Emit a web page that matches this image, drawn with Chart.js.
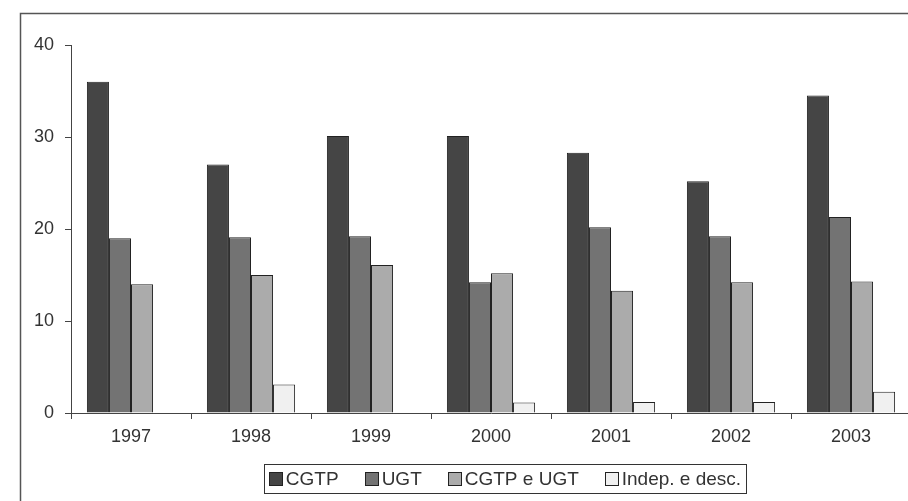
<!DOCTYPE html>
<html>
<head>
<meta charset="utf-8">
<script src="https://cdn.jsdelivr.net/npm/chart.js@4/dist/chart.umd.min.js"></script>
<style>
  html, body { margin: 0; padding: 0; background: #fff; overflow: hidden; }
  #wrap { position: absolute; left: 0; top: 0; width: 915px; height: 501px; }
</style>
</head>
<body>
<div id="wrap"><canvas id="c" width="915" height="501"></canvas></div>
<script>
const categories = ['1997', '1998', '1999', '2000', '2001', '2002', '2003'];
const seriesNames = ['CGTP', 'UGT', 'CGTP e UGT', 'Indep. e desc.'];
const cgtp  = [36.0, 27.0, 30.1, 30.1, 28.3, 25.2, 34.5];
const ugt   = [19.0, 19.1, 19.2, 14.2, 20.2, 19.2, 21.3];
const both  = [14.0, 15.0, 16.1, 15.2, 13.3, 14.2, 14.3];
const indep = [null, 3.1, null, 1.15, 1.2, 1.2, 2.3];
const yTicks = [0, 10, 20, 30, 40];

const colors = ['#454545', '#737373', '#ababab', '#f0f0f0'];
const FONT = "'Liberation Sans', Arial, Helvetica, sans-serif";
const TEXT = '#333333';

const framePlugin = {
  id: 'frame',
  beforeDraw(chart) {
    const ctx = chart.ctx;
    ctx.save();
    ctx.fillStyle = '#fff';
    ctx.fillRect(0, 0, chart.width, chart.height);
    ctx.strokeStyle = '#555';
    ctx.lineWidth = 1.5;
    ctx.beginPath();
    ctx.moveTo(20.5, chart.height + 2);
    ctx.lineTo(20.5, 13.5);
    ctx.lineTo(chart.width + 2, 13.5);
    ctx.stroke();
    ctx.restore();
  }
};

const legendPlugin = {
  id: 'boxLegend',
  afterDraw(chart) {
    const ctx = chart.ctx;
    ctx.save();
    ctx.font = '19px ' + FONT;
    const box = 14, gapText = 3, gapItem = 26, pad = 5;
    const items = chart.data.datasets.map(d => ({ text: d.label, color: d.backgroundColor, w: ctx.measureText(d.label).width }));
    let total = 0;
    items.forEach((it, i) => { total += box + gapText + it.w + (i < items.length - 1 ? gapItem : 0); });
    const cx = 505;
    const left = cx - total / 2 - pad;
    const top = 464, height = 29;
    ctx.strokeStyle = '#333';
    ctx.lineWidth = 1;
    ctx.strokeRect(Math.round(left) + 0.5, top + 0.5, Math.round(total + 2 * pad), height);
    let x = left + pad;
    const cy = top + height / 2 + 0.5;
    ctx.textBaseline = 'middle';
    ctx.textAlign = 'left';
    items.forEach(it => {
      ctx.fillStyle = it.color;
      ctx.fillRect(Math.round(x), Math.round(cy - box / 2), box, box);
      ctx.strokeStyle = '#222';
      ctx.strokeRect(Math.round(x) + 0.5, Math.round(cy - box / 2) + 0.5, box - 1, box - 1);
      x += box + gapText;
      ctx.fillStyle = TEXT;
      ctx.fillText(it.text, x, cy + 1);
      x += it.w + gapItem;
    });
    ctx.restore();
  }
};

const seriesData = [cgtp, ugt, both, indep];
new Chart(document.getElementById('c'), {
  type: 'bar',
  data: {
    labels: categories,
    datasets: seriesNames.map((name, i) => ({
      label: name,
      data: seriesData[i],
      backgroundColor: colors[i],
      borderColor: '#222',
      borderWidth: 1,
      categoryPercentage: 0.735,
      barPercentage: 1.0
    }))
  },
  options: {
    responsive: false,
    animation: false,
    devicePixelRatio: 1,
    layout: { padding: { left: 0, right: 4, top: 45, bottom: 48 } },
    plugins: { legend: { display: false }, tooltip: { enabled: false }, title: { display: false } },
    scales: {
      x: {
        grid: { display: true, offset: true, drawOnChartArea: false, drawTicks: true, tickLength: 6, color: '#444', lineWidth: 1 },
        border: { display: true, color: '#444', width: 1 },
        ticks: { color: TEXT, font: { family: FONT, size: 18 }, padding: 7, maxRotation: 0 },
        afterFit(s) { s.height = 40; }
      },
      y: {
        min: 0, max: 40,
        afterBuildTicks(s) { s.ticks = yTicks.map(v => ({ value: v })); },
        grid: { display: true, drawOnChartArea: false, drawTicks: true, tickLength: 6, color: '#444', lineWidth: 1 },
        border: { display: true, color: '#444', width: 1 },
        ticks: { color: TEXT, font: { family: FONT, size: 18 }, padding: 11 },
        afterFit(s) { s.width = 71; }
      }
    }
  },
  plugins: [framePlugin, legendPlugin]
});
</script>
</body>
</html>
